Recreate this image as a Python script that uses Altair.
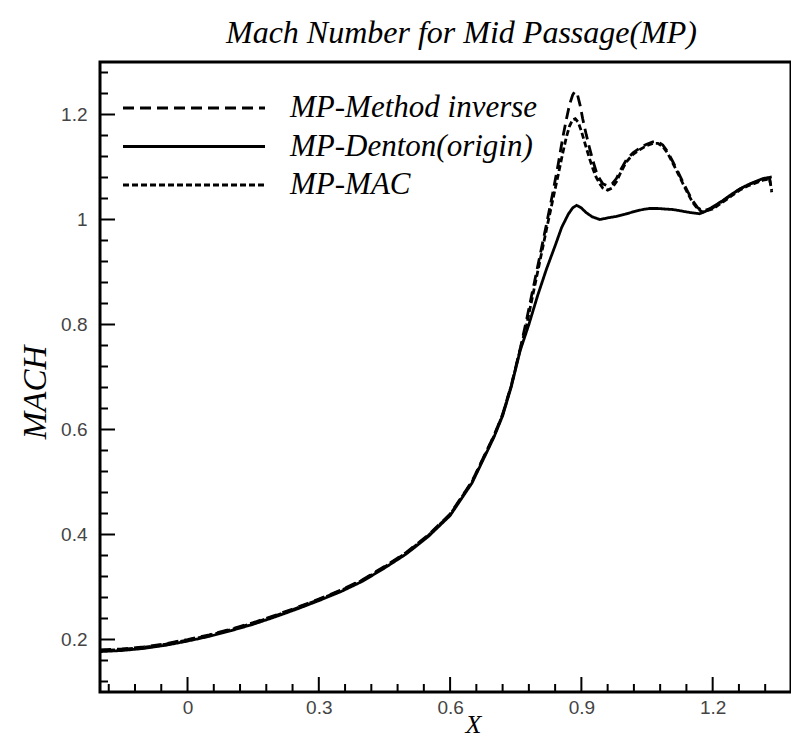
import altair as alt
import pandas as pd

series_names = ["MP-Method inverse", "MP-Denton(origin)", "MP-MAC"]

x_low = [-0.2, -0.15, -0.1, -0.05, 0.0, 0.05, 0.1, 0.15, 0.2, 0.25, 0.3, 0.35,
         0.4, 0.45, 0.5, 0.55, 0.6, 0.65, 0.7, 0.72, 0.74, 0.76]
m_low = [0.177, 0.179, 0.183, 0.189, 0.197, 0.206, 0.217, 0.229, 0.243, 0.258,
         0.274, 0.291, 0.311, 0.336, 0.363, 0.396, 0.436, 0.498, 0.585, 0.626,
         0.682, 0.750]

x_inverse_up = [0.775, 0.79, 0.805, 0.82, 0.834, 0.847, 0.857, 0.866, 0.873, 0.88,
                0.885, 0.891, 0.897, 0.903, 0.911, 0.919, 0.927, 0.934, 0.942,
                0.949, 0.96, 0.97, 0.98, 0.99, 1.003, 1.018, 1.033, 1.048, 1.063,
                1.075, 1.086, 1.098, 1.109, 1.12, 1.131, 1.143, 1.154, 1.165,
                1.177, 1.2, 1.223, 1.243, 1.262, 1.28, 1.3, 1.315, 1.33, 1.335]
m_inverse_up = [0.81, 0.87, 0.93, 0.99, 1.048, 1.105, 1.154, 1.192, 1.219, 1.237,
                1.244, 1.238, 1.218, 1.192, 1.162, 1.135, 1.11, 1.091, 1.077,
                1.068, 1.064, 1.068, 1.078, 1.095, 1.114, 1.127, 1.136, 1.143,
                1.148, 1.148, 1.142, 1.128, 1.11, 1.092, 1.073, 1.053, 1.036,
                1.023, 1.016, 1.022, 1.035, 1.047, 1.058, 1.066, 1.072, 1.077,
                1.079, 1.052]

x_mac_up = [0.775, 0.79, 0.805, 0.82, 0.834, 0.847, 0.857, 0.866, 0.873, 0.88,
            0.886, 0.893, 0.9, 0.91, 0.919, 0.927, 0.934, 0.942, 0.949, 0.96,
            0.97, 0.98, 0.99, 1.003, 1.018, 1.033, 1.048, 1.063, 1.075, 1.086,
            1.098, 1.109, 1.12, 1.131, 1.143, 1.154, 1.165, 1.177, 1.2, 1.223,
            1.243, 1.262, 1.28, 1.3, 1.315, 1.33, 1.335]
m_mac_up = [0.80, 0.86, 0.92, 0.98, 1.035, 1.085, 1.125, 1.158, 1.178, 1.19,
            1.192, 1.185, 1.168, 1.14, 1.115, 1.095, 1.08, 1.068, 1.06, 1.056,
            1.06, 1.072, 1.09, 1.11, 1.124, 1.133, 1.14, 1.145, 1.145, 1.139,
            1.125, 1.107, 1.089, 1.07, 1.05, 1.033, 1.021, 1.014, 1.02, 1.033,
            1.045, 1.056, 1.064, 1.07, 1.075, 1.077, 1.055]

x_denton_up = [0.78, 0.80, 0.82, 0.84, 0.855, 0.87, 0.88, 0.889, 0.9, 0.911,
               0.925, 0.942, 0.96, 0.98, 1.0, 1.02, 1.04, 1.056, 1.075, 1.09,
               1.109, 1.13, 1.15, 1.17, 1.185, 1.2, 1.223, 1.243, 1.262, 1.28,
               1.3, 1.315, 1.335]
m_denton_up = [0.80, 0.855, 0.905, 0.95, 0.985, 1.01, 1.022, 1.027, 1.022, 1.013,
               1.005, 1.0, 1.003, 1.006, 1.01, 1.015, 1.019, 1.021, 1.021, 1.02,
               1.019, 1.016, 1.013, 1.011, 1.016, 1.024, 1.036, 1.048, 1.058,
               1.066, 1.073, 1.078, 1.081]

x_major = [0, 0.3, 0.6, 0.9, 1.2]
x_minor = [-0.18, -0.12, -0.06, 0.06, 0.12, 0.18, 0.24, 0.36, 0.42, 0.48, 0.54,
           0.66, 0.72, 0.78, 0.84, 0.96, 1.02, 1.08, 1.14, 1.26, 1.32]
y_major = [0.2, 0.4, 0.6, 0.8, 1.0, 1.2]
y_minor = [0.12, 0.16, 0.24, 0.28, 0.32, 0.36, 0.44, 0.48, 0.52, 0.56, 0.64,
           0.68, 0.72, 0.76, 0.84, 0.88, 0.92, 0.96, 1.04, 1.08, 1.12, 1.16,
           1.24, 1.28]

rows = []
for name, xs, ms in [
    (series_names[0], x_low + x_inverse_up, [m + 0.003 for m in m_low] + m_inverse_up),
    (series_names[1], x_low + x_denton_up, m_low + m_denton_up),
    (series_names[2], x_low + x_mac_up, [m + 0.002 for m in m_low] + m_mac_up),
]:
    rows += [{"series": name, "X": x, "MACH": m} for x, m in zip(xs, ms)]
df = pd.DataFrame(rows)

W, H = 691, 630
xscale = alt.Scale(domain=[-0.2, 1.379], nice=False, zero=False)
yscale = alt.Scale(domain=[0.1, 1.3], nice=False, zero=False)
dash_scale = alt.Scale(domain=series_names, range=[[11, 6], [1, 0], [6, 3]])

xaxis = alt.Axis(values=x_major, format=".1~f", ticks=False, domain=False, grid=False,
                 labelFont="Liberation Sans", labelFontSize=19, labelColor="#444",
                 labelPadding=6, title="X", titleFont="Liberation Serif",
                 titleFontStyle="italic", titleFontWeight="normal", titleFontSize=26,
                 titleX=373, titleY=32, titleBaseline="middle", titleAlign="center",
                 titleColor="black")
yaxis = alt.Axis(values=y_major, format=".1~f", ticks=False, domain=False, grid=False,
                 labelFont="Liberation Sans", labelFontSize=19, labelColor="#444",
                 labelPadding=13, title="MACH", titleFont="Liberation Serif",
                 titleFontStyle="italic", titleFontWeight="normal", titleFontSize=33,
                 titleX=-65, titleY=330, titleAngle=270, titleBaseline="middle",
                 titleAlign="center", titleColor="black")

lines = alt.Chart(df).mark_line(strokeWidth=2.8, color="black", clip=True).encode(
    x=alt.X("X:Q", scale=xscale, axis=xaxis),
    y=alt.Y("MACH:Q", scale=yscale, axis=yaxis),
    strokeDash=alt.StrokeDash("series:N", scale=dash_scale, legend=None),
    detail="series:N",
)

def xticks(vals, length):
    d = pd.DataFrame({"X": vals})
    return alt.Chart(d).mark_rule(color="black", strokeWidth=2).encode(
        x=alt.X("X:Q", scale=xscale, axis=xaxis),
        y=alt.value(H), y2=alt.value(H - length))

def yticks(vals, length):
    d = pd.DataFrame({"MACH": vals})
    return alt.Chart(d).mark_rule(color="black", strokeWidth=2).encode(
        y=alt.Y("MACH:Q", scale=yscale, axis=yaxis),
        x=alt.value(0), x2=alt.value(length))

legend_df = pd.DataFrame({"series": series_names, "row": [0, 1, 2]})
leg_base = alt.Chart(legend_df).transform_calculate(py="46 + datum.row * 38.5")
leg_lines = leg_base.mark_rule(strokeWidth=2.8, color="black").encode(
    x=alt.value(23), x2=alt.value(165),
    y=alt.Y("py:Q", scale=None),
    strokeDash=alt.StrokeDash("series:N", scale=dash_scale, legend=None),
)
leg_text = leg_base.mark_text(align="left", baseline="middle", font="Liberation Serif",
                              fontStyle="italic", fontSize=31, color="black").encode(
    x=alt.value(190), y=alt.Y("py:Q", scale=None), text="series:N")

chart = alt.layer(
    lines, xticks(x_major, 15), xticks(x_minor, 8), yticks(y_major, 15),
    yticks(y_minor, 8), leg_lines, leg_text,
).properties(
    width=W, height=H,
    title=alt.TitleParams("Mach Number for Mid Passage(MP)", font="Liberation Serif",
                          fontStyle="italic", fontWeight="normal", fontSize=32,
                          dx=16, offset=12, anchor="middle", color="black"),
    autosize=alt.AutoSizeParams(type="none"),
    padding={"left": 92, "top": 54, "right": 0, "bottom": 46},
).configure_view(stroke="black", strokeWidth=3)

chart.save("out.html", embed_options={"renderer": "svg", "actions": False})
